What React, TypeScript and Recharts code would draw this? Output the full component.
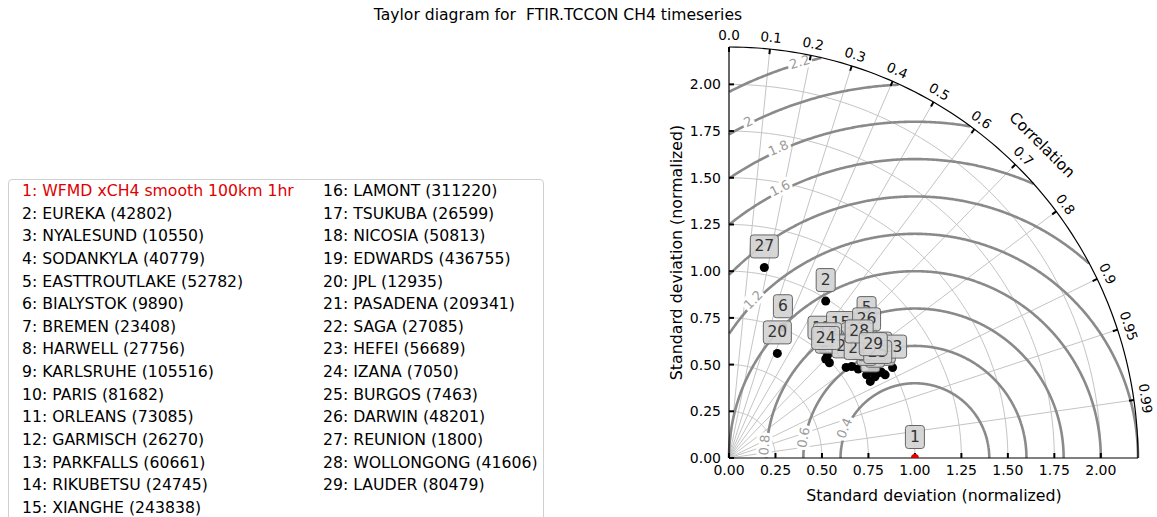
import React from 'react';
import * as RC from 'recharts';

const { ScatterChart, Scatter, XAxis, YAxis, Legend, Customized } = RC as any;

const FONT = 'DejaVu Sans';
const R_MAX = 2.2;

// stations, in legend order (index + 1 = marker label)
const stationNames = [
  'WFMD xCH4 smooth 100km 1hr', 'EUREKA', 'NYALESUND', 'SODANKYLA', 'EASTTROUTLAKE',
  'BIALYSTOK', 'BREMEN', 'HARWELL', 'KARLSRUHE', 'PARIS', 'ORLEANS', 'GARMISCH',
  'PARKFALLS', 'RIKUBETSU', 'XIANGHE', 'LAMONT', 'TSUKUBA', 'NICOSIA', 'EDWARDS',
  'JPL', 'PASADENA', 'SAGA', 'HEFEI', 'IZANA', 'BURGOS', 'DARWIN', 'REUNION',
  'WOLLONGONG', 'LAUDER',
];
const stationCounts = [
  null, 42802, 10550, 40779, 52782, 9890, 23408, 27756, 105516, 81682, 73085, 26270,
  60661, 24745, 243838, 311220, 26599, 50813, 436755, 12935, 209341, 27085, 56689,
  7050, 7463, 48201, 1800, 41606, 80479,
];

// normalized std dev, split along the reference axis (x) and orthogonal to it (y)
const pointX = [
  1.0, 0.52, 0.84, 0.76, 0.74, 0.29, 0.785, 0.74, 0.66, 0.82, 0.77, 0.5, 0.72, 0.8, 0.6,
  0.68, 0.54, 0.53, 0.66, 0.26, 0.63, 0.695, 0.88, 0.52, 0.8, 0.74, 0.19, 0.7, 0.776,
];
const pointY = [
  0.0, 0.84, 0.445, 0.41, 0.69, 0.7, 0.435, 0.445, 0.6, 0.46, 0.47, 0.585, 0.52, 0.5, 0.61,
  0.55, 0.51, 0.55, 0.49, 0.56, 0.485, 0.476, 0.484, 0.53, 0.455, 0.63, 1.02, 0.565, 0.497,
];

const stdTicks = [0, 0.25, 0.5, 0.75, 1.0, 1.25, 1.5, 1.75, 2.0];
const corrTicks = [0, 0.1, 0.2, 0.3, 0.4, 0.5, 0.6, 0.7, 0.8, 0.9, 0.95, 0.99];
const rmsLevels = [0.4, 0.6, 0.8, 1.0, 1.2, 1.4, 1.6, 1.8, 2.0, 2.2];
const rmsLabelText = ['0.4', '0.6', '0.8', '1.2', '1.6', '1.8', '2', '2.2'];
const rmsLabelX = [0.62, 0.4, 0.19, 0.13, 0.274, 0.265, 0.104, 0.38];
const rmsLabelY = [0.16, 0.11, 0.07, 0.847, 1.445, 1.66, 1.8, 2.12];

const points = pointX.map((x, i) => ({ id: i + 1, x, y: pointY[i] }));

const usePlot: () => any = (RC as any).usePlotArea ?? (() => null);

function TaylorGrid() {
  const plot = usePlot();
  const L = plot?.x ?? 729;
  const T = plot?.y ?? 47;
  const W = plot?.width ?? 409;
  const H = plot?.height ?? 411;
  const sx = W / R_MAX;
  const sy = H / R_MAX;
  const px = (x: number) => L + x * sx;
  const py = (y: number) => T + H - y * sy;

  const arc = (r: number) => {
    let d = '';
    for (let k = 0; k <= 90; k++) {
      const a = (k * Math.PI) / 180;
      d += `${k === 0 ? 'M' : 'L'}${px(r * Math.cos(a)).toFixed(2)},${py(r * Math.sin(a)).toFixed(2)}`;
    }
    return d;
  };

  const contour = (r: number) => {
    let d = '';
    let pen = false;
    for (let k = 0; k <= 720; k++) {
      const t = (k * Math.PI) / 720;
      const x = 1 + r * Math.cos(t);
      const y = r * Math.sin(t);
      const inside = x >= 0 && x * x + y * y <= R_MAX * R_MAX;
      if (inside) {
        d += `${pen ? 'L' : 'M'}${px(x).toFixed(2)},${py(y).toFixed(2)}`;
        pen = true;
      } else pen = false;
    }
    return d;
  };

  return (
    <g>
      {/* std dev arcs */}
      {stdTicks.slice(1).map((r) => (
        <path key={'s' + r} d={arc(r)} fill="none" stroke="#c4c4c4" strokeWidth={1} />
      ))}
      {/* correlation rays */}
      {corrTicks.slice(1).map((c) => {
        const a = Math.acos(c);
        return (
          <line key={'c' + c} x1={px(0)} y1={py(0)} x2={px(R_MAX * Math.cos(a))} y2={py(R_MAX * Math.sin(a))}
            stroke="#c4c4c4" strokeWidth={1} />
        );
      })}
      {/* centred RMS contours */}
      {rmsLevels.map((r) => (
        <path key={'r' + r} d={contour(r)} fill="none" stroke="#8a8a8a" strokeWidth={2.6} />
      ))}
      {rmsLabelText.map((t, i) => {
        const x = rmsLabelX[i];
        const y = rmsLabelY[i];
        let phi = (Math.atan2(y, x - 1) * 180) / Math.PI - 90;
        if (phi > 90) phi -= 180;
        if (phi <= -90) phi += 180;
        return (
          <text key={'l' + t} x={px(x)} y={py(y)} transform={`rotate(${-phi} ${px(x)} ${py(y)})`}
            textAnchor="middle" dominantBaseline="central" fontSize={13} fontFamily={FONT}
            fill="#9a9a9a" stroke="#fff" strokeWidth={6} paintOrder="stroke">
            {t}
          </text>
        );
      })}
      {/* outer arc */}
      <path d={arc(R_MAX)} fill="none" stroke="#000" strokeWidth={1.2} />
      {/* inward ticks */}
      {stdTicks.map((v) => (
        <g key={'t' + v}>
          <line x1={px(v)} y1={py(0)} x2={px(v)} y2={py(0) - 5} stroke="#000" strokeWidth={2} />
          <line x1={px(0)} y1={py(v)} x2={px(0) + 5} y2={py(v)} stroke="#000" strokeWidth={2} />
        </g>
      ))}
      {corrTicks.map((c) => {
        const a = Math.acos(c);
        const x0 = px(R_MAX * Math.cos(a));
        const y0 = py(R_MAX * Math.sin(a));
        const lx = px((R_MAX + 12 / sx) * Math.cos(a));
        const ly = py((R_MAX + 12 / sy) * Math.sin(a));
        const rot = 90 - (a * 180) / Math.PI;
        return (
          <g key={'ct' + c}>
            <line x1={x0} y1={y0} x2={x0 - 5 * Math.cos(a)} y2={y0 + 5 * Math.sin(a)} stroke="#000" strokeWidth={2} />
            <text x={lx} y={ly} transform={`rotate(${rot} ${lx} ${ly})`} textAnchor="middle"
              dominantBaseline="central" fontSize={13.5} fontFamily={FONT} fill="#000">
              {c.toFixed(c === 0.95 || c === 0.99 ? 2 : 1)}
            </text>
          </g>
        );
      })}
      <text x={px(0) + 313} y={py(0) - 313} transform={`rotate(45 ${px(0) + 313} ${py(0) - 313})`}
        textAnchor="middle" dominantBaseline="central" fontSize={15.5} fontFamily={FONT} fill="#000">
        Correlation
      </text>
      <text x={934} y={495} textAnchor="middle" dominantBaseline="central" fontSize={15.8}
        fontFamily={FONT} fill="#000">
        Standard deviation (normalized)
      </text>
      <text x={676} y={T + H / 2} transform={`rotate(-90 676 ${T + H / 2})`} textAnchor="middle"
        dominantBaseline="central" fontSize={15.8} fontFamily={FONT} fill="#000">
        Standard deviation (normalized)
      </text>
      <text x={558} y={15} textAnchor="middle" dominantBaseline="central" fontSize={15.6}
        fontFamily={FONT} fill="#000" style={{ whiteSpace: 'pre' }} xmlSpace="preserve">
        {'Taylor diagram for  FTIR.TCCON CH4 timeseries'}
      </text>
    </g>
  );
}

const DotShape = (p: any) => {
  const ref = p.payload.id === 1;
  return <circle cx={p.cx} cy={p.cy} r={ref ? 4 : 4.5} fill={ref ? '#e00000' : '#000'} />;
};

const TagShape = (p: any) => {
  const label = String(p.payload.id);
  const w = label.length === 1 ? 19 : 28;
  const cy = p.cy - 21;
  return (
    <g>
      <rect x={p.cx - w / 2} y={cy - 11.5} width={w} height={23} rx={3} fill="#d3d3d3" fillOpacity={0.92}
        stroke="#666" strokeWidth={1} />
      <text x={p.cx} y={cy} textAnchor="middle" dominantBaseline="central" fontSize={15.5}
        fontFamily={FONT} fill="#333">
        {label}
      </text>
    </g>
  );
};

function LegendBox() {
  const rows = stationNames.map((n, i) =>
    `${i + 1}: ${n}${stationCounts[i] != null ? ` (${stationCounts[i]})` : ''}`,
  );
  const col = (items: string[], offset: number, width: number) => (
    <div style={{ width, flexShrink: 0 }}>
      {items.map((t, k) => (
        <div key={t} style={{ height: 22.64, lineHeight: '22.64px', whiteSpace: 'nowrap',
          color: k + offset === 0 ? '#e00000' : '#000' }}>
          {t}
        </div>
      ))}
    </div>
  );
  return (
    <div style={{ boxSizing: 'border-box', width: 536, height: 345, border: '1px solid #d0d0d0',
      borderRadius: 4, background: '#fff', padding: '0 0 0 13px', display: 'flex',
      fontFamily: FONT, fontSize: 15.7, textAlign: 'left', overflow: 'visible' }}>
      {col(rows.slice(0, 15), 0, 301)}
      {col(rows.slice(15), 15, 220)}
    </div>
  );
}

export default function App() {
  return (
    <div style={{ position: 'absolute', left: 0, top: 0, width: 1157, height: 517, overflow: 'hidden',
      background: '#fff' }}>
      <ScatterChart width={1157} height={517} margin={{ top: 47, right: 19, bottom: 0, left: 660 }}>
        <XAxis type="number" dataKey="x" domain={[0, R_MAX]} ticks={stdTicks} allowDataOverflow
          height={59} tickLine={false} tickSize={5} axisLine={{ stroke: '#000', strokeWidth: 1.2 }}
          tickFormatter={(v: number) => v.toFixed(2)}
          tick={{ fill: '#000', fontSize: 14, fontFamily: FONT }} />
        <YAxis type="number" dataKey="y" domain={[0, R_MAX]} ticks={stdTicks} allowDataOverflow
          width={69} tickLine={false} tickSize={6} axisLine={{ stroke: '#000', strokeWidth: 1.2 }}
          tickFormatter={(v: number) => v.toFixed(2)}
          tick={{ fill: '#000', fontSize: 14, fontFamily: FONT }} />
        <Customized component={<TaylorGrid />} />
        <Scatter data={points} shape={DotShape} isAnimationActive={false} />
        <Scatter data={points} shape={TagShape} isAnimationActive={false} />
        <Legend layout="horizontal" verticalAlign="middle" align="center"
          wrapperStyle={{ position: 'absolute', left: 8, top: 179, width: 536, height: 345 }}
          content={() => <LegendBox />} />
      </ScatterChart>
    </div>
  );
}
